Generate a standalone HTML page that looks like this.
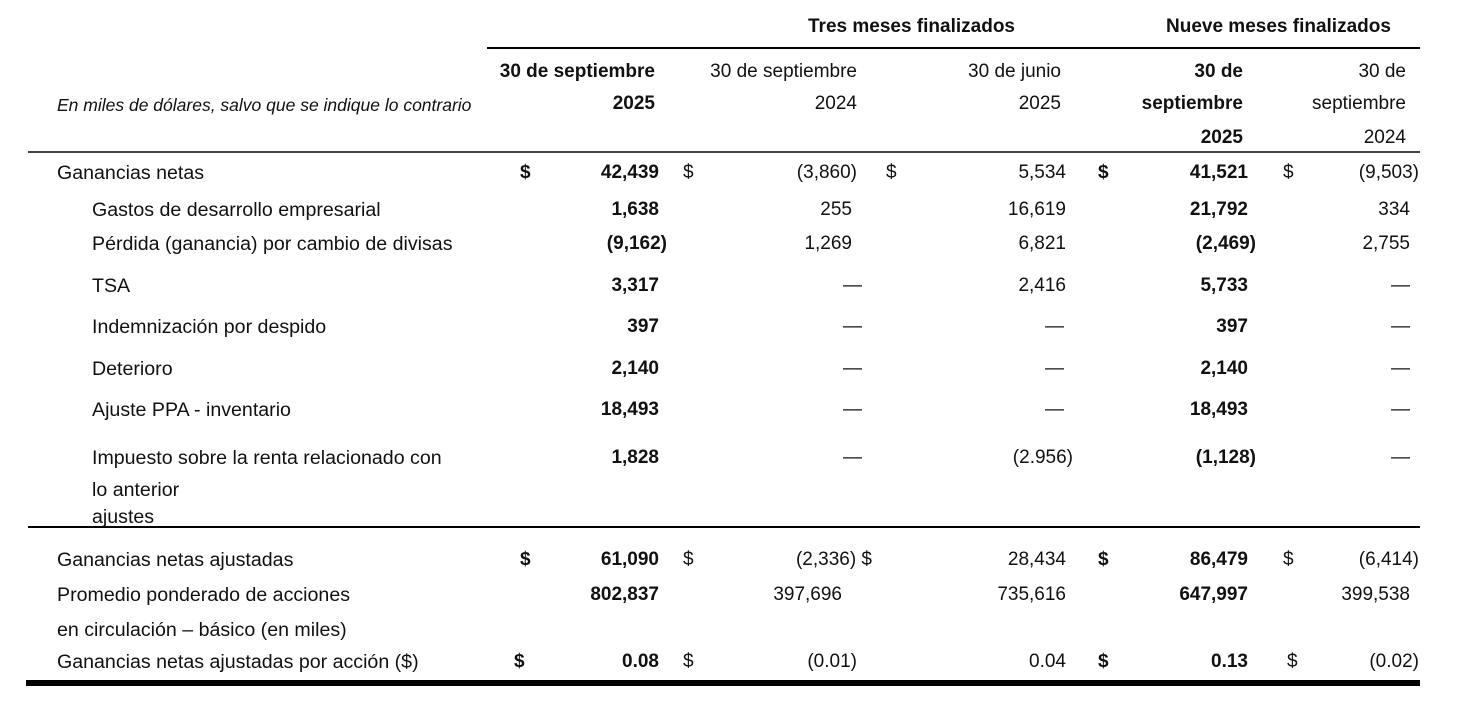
<!DOCTYPE html>
<html><head><meta charset="utf-8"><style>
html,body{margin:0;padding:0;background:#fff;}
#c{position:relative;width:1469px;height:712px;overflow:hidden;font-family:"Liberation Sans",sans-serif;font-size:19px;color:#111;}
#c div{position:absolute;line-height:22px;white-space:nowrap;}
.b{font-weight:bold;}
.ln{background:#000;height:2px;line-height:0!important;}
.L{font-size:19.6px;}
</style></head><body><div id="c">
<div class="ln" style="left:487px;top:47px;width:933px;"></div>
<div class="ln" style="left:28px;top:151px;width:1392px;background:#444;"></div>
<div class="ln" style="left:28px;top:526px;width:1392px;"></div>
<div class="ln" style="left:26px;top:680px;width:1394px;height:6px;"></div>

<div class="b" style="left:808px;top:16px;">Tres meses finalizados</div>
<div class="b" style="left:1166px;top:16px;">Nueve meses finalizados</div>

<div style="left:57px;top:94px;font-style:italic;font-size:17.5px;">En miles de dólares, salvo que se indique lo contrario</div>
<div class="b" style="right:814px;top:61px;">30 de septiembre</div>
<div class="b" style="right:814px;top:93px;">2025</div>
<div style="right:612px;top:61px;">30 de septiembre</div>
<div style="right:612px;top:93px;">2024</div>
<div style="right:408px;top:61px;">30 de junio</div>
<div style="right:408px;top:93px;">2025</div>
<div class="b" style="right:226px;top:61px;">30 de</div>
<div class="b" style="right:226px;top:93px;">septiembre</div>
<div class="b" style="right:226px;top:127px;">2025</div>
<div style="right:63px;top:61px;">30 de</div>
<div style="right:63px;top:93px;">septiembre</div>
<div style="right:63px;top:127px;">2024</div>

<!-- labels -->
<div class="L" style="left:57px;top:162px;">Ganancias netas</div>
<div class="L" style="left:92px;top:199px;">Gastos de desarrollo empresarial</div>
<div class="L" style="left:92px;top:233px;">Pérdida (ganancia) por cambio de divisas</div>
<div class="L" style="left:92px;top:275px;">TSA</div>
<div class="L" style="left:92px;top:316px;">Indemnización por despido</div>
<div class="L" style="left:92px;top:358px;">Deterioro</div>
<div class="L" style="left:92px;top:399px;">Ajuste PPA - inventario</div>
<div class="L" style="left:92px;top:447px;">Impuesto sobre la renta relacionado con</div>
<div class="L" style="left:92px;top:479px;">lo anterior</div>
<div class="L" style="left:92px;top:506px;">ajustes</div>
<div class="L" style="left:57px;top:549px;">Ganancias netas ajustadas</div>
<div class="L" style="left:57px;top:584px;">Promedio ponderado de acciones</div>
<div class="L" style="left:57px;top:619px;">en circulación – básico (en miles)</div>
<div class="L" style="left:57px;top:651px;">Ganancias netas ajustadas por acción ($)</div>

<!-- dollar signs -->
<div class="b" style="left:520px;top:162px;">$</div>
<div style="left:683px;top:162px;">$</div>
<div style="left:886px;top:162px;">$</div>
<div class="b" style="left:1098px;top:162px;">$</div>
<div style="left:1283px;top:162px;">$</div>
<div class="b" style="left:520px;top:549px;">$</div>
<div style="left:683px;top:549px;">$</div>
<div class="b" style="left:1098px;top:549px;">$</div>
<div style="left:1283px;top:549px;">$</div>
<div class="b" style="left:514px;top:651px;">$</div>
<div style="left:683px;top:651px;">$</div>
<div class="b" style="left:1098px;top:651px;">$</div>
<div style="left:1287px;top:651px;">$</div>

<!-- col1 -->
<div class="b" style="right:810px;top:162px;">42,439</div>
<div class="b" style="right:810px;top:199px;">1,638</div>
<div class="b" style="right:802px;top:233px;">(9,162)</div>
<div class="b" style="right:810px;top:275px;">3,317</div>
<div class="b" style="right:810px;top:316px;">397</div>
<div class="b" style="right:810px;top:358px;">2,140</div>
<div class="b" style="right:810px;top:399px;">18,493</div>
<div class="b" style="right:810px;top:447px;">1,828</div>
<div class="b" style="right:810px;top:549px;">61,090</div>
<div class="b" style="right:810px;top:584px;">802,837</div>
<div class="b" style="right:810px;top:651px;">0.08</div>

<!-- col2 -->
<div style="right:612px;top:162px;">(3,860)</div>
<div style="right:617px;top:199px;">255</div>
<div style="right:617px;top:233px;">1,269</div>
<div style="right:607px;top:275px;">—</div>
<div style="right:607px;top:316px;">—</div>
<div style="right:607px;top:358px;">—</div>
<div style="right:607px;top:399px;">—</div>
<div style="right:607px;top:447px;">—</div>
<div style="right:597px;top:549px;">(2,336) $</div>
<div style="right:627px;top:584px;">397,696</div>
<div style="right:612px;top:651px;">(0.01)</div>

<!-- col3 -->
<div style="right:403px;top:162px;">5,534</div>
<div style="right:403px;top:199px;">16,619</div>
<div style="right:403px;top:233px;">6,821</div>
<div style="right:403px;top:275px;">2,416</div>
<div style="right:405px;top:316px;">—</div>
<div style="right:405px;top:358px;">—</div>
<div style="right:405px;top:399px;">—</div>
<div style="right:396px;top:447px;">(2.956)</div>
<div style="right:403px;top:549px;">28,434</div>
<div style="right:403px;top:584px;">735,616</div>
<div style="right:403px;top:651px;">0.04</div>

<!-- col4 -->
<div class="b" style="right:221px;top:162px;">41,521</div>
<div class="b" style="right:221px;top:199px;">21,792</div>
<div class="b" style="right:213px;top:233px;">(2,469)</div>
<div class="b" style="right:221px;top:275px;">5,733</div>
<div class="b" style="right:221px;top:316px;">397</div>
<div class="b" style="right:221px;top:358px;">2,140</div>
<div class="b" style="right:221px;top:399px;">18,493</div>
<div class="b" style="right:213px;top:447px;">(1,128)</div>
<div class="b" style="right:221px;top:549px;">86,479</div>
<div class="b" style="right:221px;top:584px;">647,997</div>
<div class="b" style="right:221px;top:651px;">0.13</div>

<!-- col5 -->
<div style="right:50px;top:162px;">(9,503)</div>
<div style="right:59px;top:199px;">334</div>
<div style="right:59px;top:233px;">2,755</div>
<div style="right:59px;top:275px;">—</div>
<div style="right:59px;top:316px;">—</div>
<div style="right:59px;top:358px;">—</div>
<div style="right:59px;top:399px;">—</div>
<div style="right:59px;top:447px;">—</div>
<div style="right:50px;top:549px;">(6,414)</div>
<div style="right:59px;top:584px;">399,538</div>
<div style="right:50px;top:651px;">(0.02)</div>
</div></body></html>
